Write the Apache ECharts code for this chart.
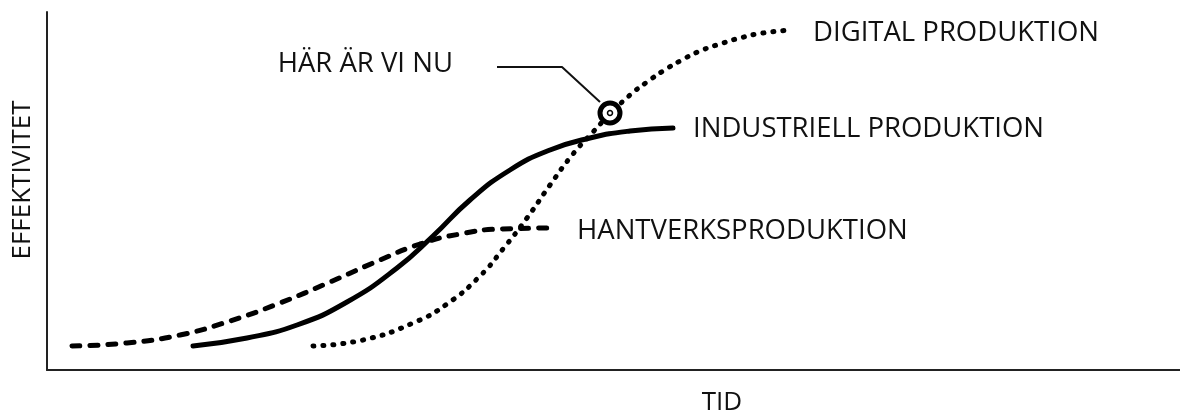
<!DOCTYPE html>
<html>
<head>
<meta charset="utf-8">
<script src="https://cdn.jsdelivr.net/npm/echarts@6/dist/echarts.min.js"></script>
<style>
  html, body { margin: 0; padding: 0; background: #fff; }
  #chart { width: 1180px; height: 416px; }
</style>
</head>
<body>
<div id="chart"></div>
<script>
// tid (x) och effektivitet (y)
const hantverkX = [25, 80, 133, 183, 233, 283, 333, 373, 413, 453, 506]
const hantverkY = [24, 27, 35, 49, 67, 88, 110, 126, 136, 141, 142]

const industriX = [146, 200, 250, 300, 350, 386, 423, 463, 503, 543, 583, 626]
const industriY = [24, 32, 45, 68, 102, 134, 170, 200, 220, 232, 239, 242]

const digitalX = [266, 316, 366, 400, 433, 456, 480, 503, 526, 546, 563, 583, 600, 616, 633, 653, 673, 693, 716, 745]
const digitalY = [24, 30, 47, 66, 94, 121, 152, 185, 216, 238, 256, 275, 288, 299, 309, 319, 326, 332, 337, 340]

// "här är vi nu" – punkten på den digitala kurvan och pekarlinjen dit
const nuX = [563]
const nuY = [257]
const pekareX = [450, 515, 553]
const pekareY = [303, 303, 268]

const pair = (xs, ys) => xs.map((x, i) => [x, ys[i]])

const font = '"Open Sans", "DejaVu Sans", sans-serif'
const ink = '#111'
const size = 27.5

const chart = echarts.init(document.getElementById('chart'))

const endLabel = (dist, dy) => ({
  show: true,
  formatter: '{a}',
  distance: dist,
  offset: [0, dy],
  color: ink,
  fontFamily: font,
  fontSize: size
})

chart.setOption({
  animation: false,
  grid: { left: 47, right: 0, top: 12, bottom: 46 },
  xAxis: {
    type: 'value', min: 0, max: 1133,
    axisLine: { show: true, lineStyle: { color: '#222', width: 2 } },
    axisTick: { show: false }, axisLabel: { show: false }, splitLine: { show: false }
  },
  yAxis: {
    type: 'value', min: 0, max: 358,
    axisLine: { show: true, lineStyle: { color: '#222', width: 2 } },
    axisTick: { show: false }, axisLabel: { show: false }, splitLine: { show: false }
  },
  graphic: [
    { type: 'text', x: 722, y: 403, style: { text: 'TID', fill: ink, font: '26px ' + font, textAlign: 'center', textVerticalAlign: 'middle' } },
    { type: 'text', x: 23, y: 180, rotation: Math.PI / 2, style: { text: 'EFFEKTIVITET', fill: ink, font: '26px ' + font, textAlign: 'center', textVerticalAlign: 'middle' } }
  ],
  series: [
    {
      name: 'HANTVERKSPRODUKTION', type: 'line', smooth: true, symbol: 'none',
      data: pair(hantverkX, hantverkY),
      lineStyle: { color: '#000', width: 5, type: [8, 10], cap: 'round' },
      endLabel: endLabel(24, 3)
    },
    {
      name: 'INDUSTRIELL PRODUKTION', type: 'line', smooth: true, symbol: 'none',
      data: pair(industriX, industriY),
      lineStyle: { color: '#000', width: 5, cap: 'round' },
      endLabel: endLabel(20, 1)
    },
    {
      name: 'DIGITAL PRODUKTION', type: 'line', smooth: true, symbol: 'none',
      data: pair(digitalX, digitalY),
      lineStyle: { color: '#000', width: 5, type: [1, 9], cap: 'round' },
      endLabel: endLabel(21, 3)
    },
    {
      name: 'pekare', type: 'line', symbol: 'none', z: 3,
      data: pair(pekareX, pekareY),
      lineStyle: { color: '#111', width: 2 }
    },
    {
      name: 'HÄR ÄR VI NU', type: 'scatter', z: 4,
      data: pair(pekareX, pekareY).slice(0, 1),
      symbolSize: 0.1,
      itemStyle: { color: '#000', opacity: 1 },
      label: {
        show: true, position: 'left', distance: 44, offset: [0, -3],
        formatter: '{a}', color: ink, fontFamily: font, fontSize: size
      }
    },
    {
      name: 'nu', type: 'scatter', z: 5,
      data: pair(nuX, nuY),
      symbol: 'circle', symbolSize: 20,
      itemStyle: { color: '#fff', borderColor: '#000', borderWidth: 5, opacity: 1 }
    },
    {
      name: 'nu-kärna', type: 'scatter', z: 6,
      data: pair(nuX, nuY),
      symbol: 'circle', symbolSize: 5,
      itemStyle: { color: '#fff', borderColor: '#000', borderWidth: 1.5, opacity: 1 }
    }
  ]
})
</script>
</body>
</html>
